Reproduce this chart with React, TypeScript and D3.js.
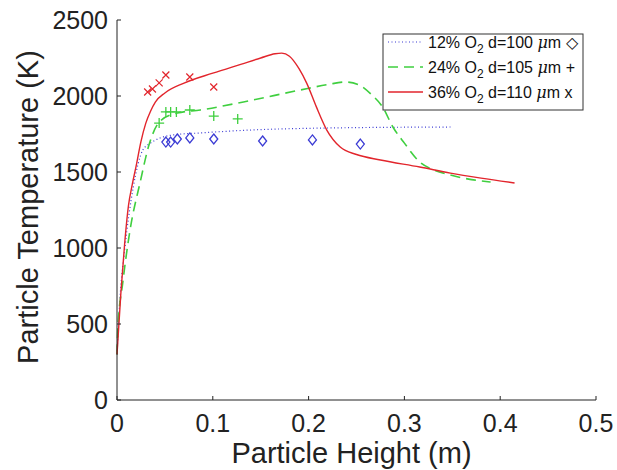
import React from 'react'
import * as d3 from 'd3'

// simulated particle temperature profiles (height in m, temperature in K)
const redX = [0, 0.004, 0.008, 0.012, 0.016, 0.02, 0.025, 0.03, 0.035, 0.04, 0.05, 0.07, 0.1, 0.13, 0.15, 0.165, 0.172, 0.18, 0.19, 0.198, 0.208, 0.219, 0.233, 0.25, 0.275, 0.316, 0.348, 0.38, 0.415]
const redT = [300, 700, 1030, 1280, 1420, 1540, 1700, 1820, 1900, 1960, 2020, 2085, 2150, 2210, 2250, 2278, 2282, 2262, 2180, 2085, 1930, 1776, 1664, 1615, 1579, 1533, 1493, 1460, 1428]

const greenX = [0, 0.001, 0.006, 0.0136, 0.024, 0.034, 0.045, 0.063, 0.087, 0.132, 0.191, 0.22, 0.238, 0.252, 0.266, 0.277, 0.288, 0.3, 0.316, 0.33, 0.348, 0.37, 0.39]
const greenT = [300, 480, 770, 1118, 1428, 1691, 1835, 1888, 1908, 1961, 2039, 2075, 2092, 2075, 2007, 1930, 1796, 1690, 1566, 1515, 1480, 1450, 1434]

const blueX = [0, 0.003, 0.008, 0.017, 0.027, 0.035, 0.045, 0.06, 0.087, 0.139, 0.225, 0.35]
const blueT = [300, 658, 987, 1401, 1645, 1690, 1724, 1745, 1757, 1776, 1790, 1796]

// measurements
const crossX = [0.032, 0.037, 0.044, 0.051, 0.076, 0.101]
const crossT = [2026, 2046, 2086, 2138, 2125, 2059]
const plusX = [0.044, 0.051, 0.056, 0.062, 0.076, 0.101, 0.126]
const plusT = [1822, 1895, 1895, 1895, 1908, 1868, 1849]
const diamondX = [0.051, 0.056, 0.063, 0.076, 0.101, 0.152, 0.204, 0.254]
const diamondT = [1697, 1697, 1717, 1724, 1717, 1704, 1711, 1684]

const xTicks = [0, 0.1, 0.2, 0.3, 0.4, 0.5]
const yTicks = [0, 500, 1000, 1500, 2000, 2500]

const RED = '#e2252c'
const GREEN = '#3fcf3f'
const BLUE = '#3b3bd4'
const FONT = '"Liberation Sans", Arial, Helvetica, sans-serif'

export default function App() {
  const width = 617
  const height = 470
  const left = 117, right = 596, top = 20, bottom = 400

  const x = d3.scaleLinear().domain([0, 0.5]).range([left, right])
  const y = d3.scaleLinear().domain([0, 2500]).range([bottom, top])

  const line = (xs: number[], ts: number[]) =>
    d3.line<number>()
      .x((d, i) => x(xs[i]))
      .y(d => y(d))
      .curve(d3.curveMonotoneX)(ts) || ''

  const legendRows = [
    { pct: '12%', d: '100', sym: '\u25C7', color: BLUE, dash: '1,2.5', w: 1.2 },
    { pct: '24%', d: '105', sym: '+', color: GREEN, dash: '10,6', w: 1.6 },
    { pct: '36%', d: '110', sym: 'x', color: RED, dash: '', w: 1.4 },
  ]

  return (
    <svg width={width} height={height} style={{ position: 'absolute', left: 0, top: 0, background: '#fff' }}
      fontFamily={FONT}>
      {/* curves */}
      <path d={line(blueX, blueT)} fill="none" stroke={BLUE} strokeWidth={1.2} strokeDasharray="1,2.5" />
      <path d={line(greenX, greenT)} fill="none" stroke={GREEN} strokeWidth={1.6} strokeDasharray="10,6" />
      <path d={line(redX, redT)} fill="none" stroke={RED} strokeWidth={1.4} />

      {/* markers */}
      {diamondX.map((v, i) => {
        const cx = x(v), cy = y(diamondT[i])
        return <path key={'d' + i} d={`M${cx},${cy - 5}L${cx + 4},${cy}L${cx},${cy + 5}L${cx - 4},${cy}Z`}
          fill="none" stroke={BLUE} strokeWidth={1.3} />
      })}
      {plusX.map((v, i) => {
        const cx = x(v), cy = y(plusT[i])
        return <path key={'p' + i} d={`M${cx - 5},${cy}H${cx + 5}M${cx},${cy - 5}V${cy + 5}`}
          stroke={GREEN} strokeWidth={1.3} />
      })}
      {crossX.map((v, i) => {
        const cx = x(v), cy = y(crossT[i])
        return <path key={'c' + i} d={`M${cx - 3.5},${cy - 3.5}L${cx + 3.5},${cy + 3.5}M${cx - 3.5},${cy + 3.5}L${cx + 3.5},${cy - 3.5}`}
          stroke={RED} strokeWidth={1.2} />
      })}

      {/* axes */}
      <line x1={left} x2={left} y1={top} y2={bottom} stroke="#222" strokeWidth={1} />
      <line x1={left} x2={right} y1={bottom} y2={bottom} stroke="#222" strokeWidth={1} />
      {yTicks.map(t => (
        <g key={'y' + t}>
          <line x1={left} x2={left + 4} y1={y(t)} y2={y(t)} stroke="#222" />
          <text x={left - 9} y={y(t)} dy="0.35em" textAnchor="end" fontSize={25} fill="#222">{t}</text>
        </g>
      ))}
      {xTicks.map(t => (
        <g key={'x' + t}>
          <line x1={x(t)} x2={x(t)} y1={bottom} y2={bottom - 4} stroke="#222" />
          <text x={x(t)} y={432} textAnchor="middle" fontSize={25} fill="#222">{t}</text>
        </g>
      ))}
      <text x={(left + right) / 2 - 5} y={463} textAnchor="middle" fontSize={29} fill="#222">Particle Height (m)</text>
      <text transform={`translate(38,207) rotate(-90)`} textAnchor="middle" fontSize={29} fill="#222">Particle Temperature (K)</text>

      {/* legend */}
      <rect x={383} y={34} width={200} height={76} fill="#fff" stroke="#333" strokeWidth={1} />
      {legendRows.map((r, i) => {
        const ry = 42 + i * 25
        return (
          <g key={'l' + i}>
            <line x1={388} x2={423} y1={ry} y2={ry} stroke={r.color} strokeWidth={r.w} strokeDasharray={r.dash || undefined} />
            <text x={428} y={ry + 5.5} fontSize={16} fill="#111">
              {r.pct} O<tspan dy={5} fontSize={12}>2</tspan><tspan dy={-5}> d={r.d} </tspan>
              <tspan fontStyle="italic" fontFamily='"DejaVu Serif", serif'>{'\u03BC'}</tspan>m {r.sym}
            </text>
          </g>
        )
      })}
    </svg>
  )
}
